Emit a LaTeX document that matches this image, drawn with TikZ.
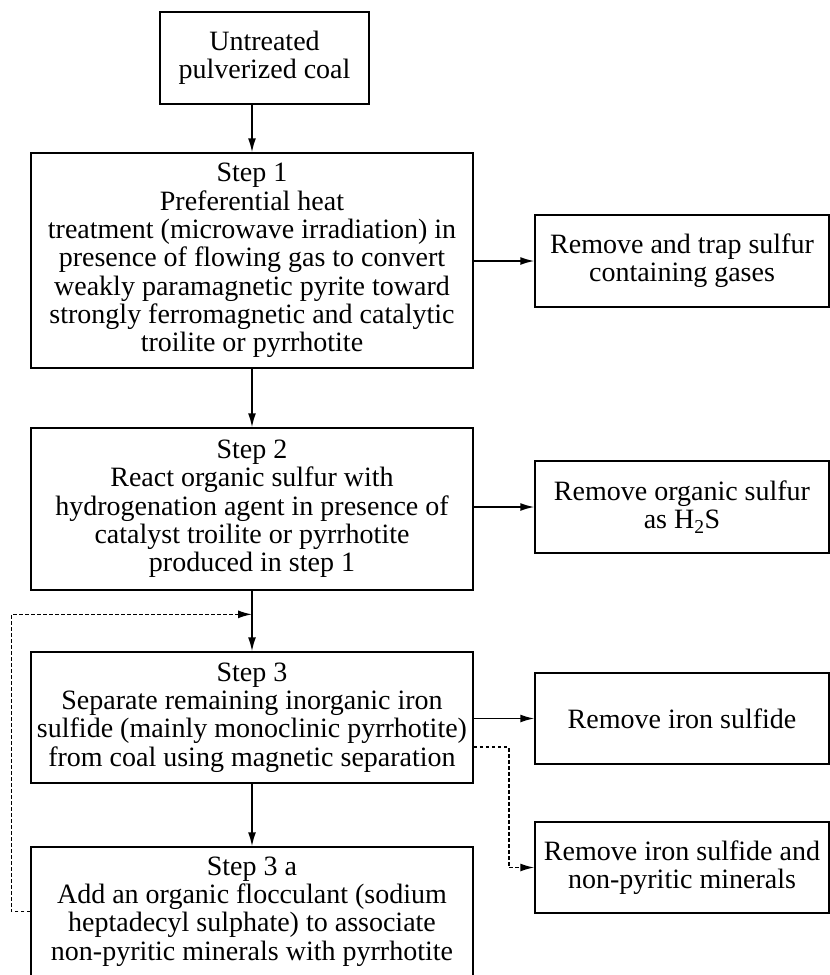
\documentclass[tikz,border=0pt]{standalone}
\usepackage{fontspec}
\setmainfont{Liberation Serif}
\usetikzlibrary{arrows.meta,positioning,calc}
\tikzset{
  box/.style={draw, line width=1.5pt, align=center, inner sep=0pt,
    font=\fontsize{28}{28.3}\selectfont},
  stepbox/.style={box, minimum width=442pt},
  outbox/.style={box, minimum width=294pt, minimum height=92pt},
  arr/.style={line width=1.5pt, -{Latex[length=14pt,width=8pt]}},
  dasharr/.style={arr, dash pattern=on 3.5pt off 2.5pt}
}

\begin{document}
\begin{tikzpicture}[x=1pt,y=-1pt]
\useasboundingbox (0,0) rectangle (830,975);
% Main column
\node[box, minimum width=209pt, minimum height=92pt] (coal) at (264.5,58) {Untreated\\pulverized coal};
\node[stepbox, minimum height=215pt] (step1) at (252,260.5) {Step 1\\Preferential heat\\treatment (microwave irradiation) in\\presence of flowing gas to convert\\weakly paramagnetic pyrite toward\\strongly ferromagnetic and catalytic\\troilite or pyrrhotite};
\node[stepbox, minimum height=162pt] (step2) at (252,509) {Step 2\\React organic sulfur with\\hydrogenation agent in presence of\\catalyst troilite or pyrrhotite\\produced in step 1};
\node[stepbox, minimum height=131pt] (step3) at (252,717.5) {Step 3\\Separate remaining inorganic iron\\sulfide (mainly monoclinic pyrrhotite)\\from coal using magnetic separation};
\node[stepbox, minimum height=129pt] (step3a) at (252,911.5) {Step 3 a\\Add an organic flocculant (sodium\\heptadecyl sulphate) to associate\\non-pyritic minerals with pyrrhotite};
% Outputs
\node[outbox] (gases) at (682,261) {Remove and trap sulfur\\containing gases};
\node[outbox] (hts) at (682,507) {Remove organic sulfur\\as H\textsubscript{2}S};
\node[outbox, minimum height=91pt] (ironsulf) at (682,718.5) {Remove iron sulfide};
\node[outbox, minimum height=91pt] (minerals) at (682,867.5) {Remove iron sulfide and\\non-pyritic minerals};

% Arrows
\draw[arr] (step1.north |- coal.south) -- (step1.north);
\draw[arr] (step1) -- (step2);
\coordinate (loop) at ($(step2.south)!0.39!(step3.north)$);
\draw[arr] (step2) -- (step3);
\draw[arr] (step3) -- (step3a);
\draw[arr] (step1.east |- gases) -- (gases.west);
\draw[arr] (step2.east |- hts) -- (hts.west);
\draw[arr] (step3.east |- ironsulf) -- (ironsulf.west);
% Dashed paths
\draw[dasharr] ($(step3.east)+(0,29.5)$) -- ++(35,0) |- (minerals.west);
\draw[dasharr] (step3a.west) -- ++(-19,0) |- (loop);
\end{tikzpicture}
\end{document}
